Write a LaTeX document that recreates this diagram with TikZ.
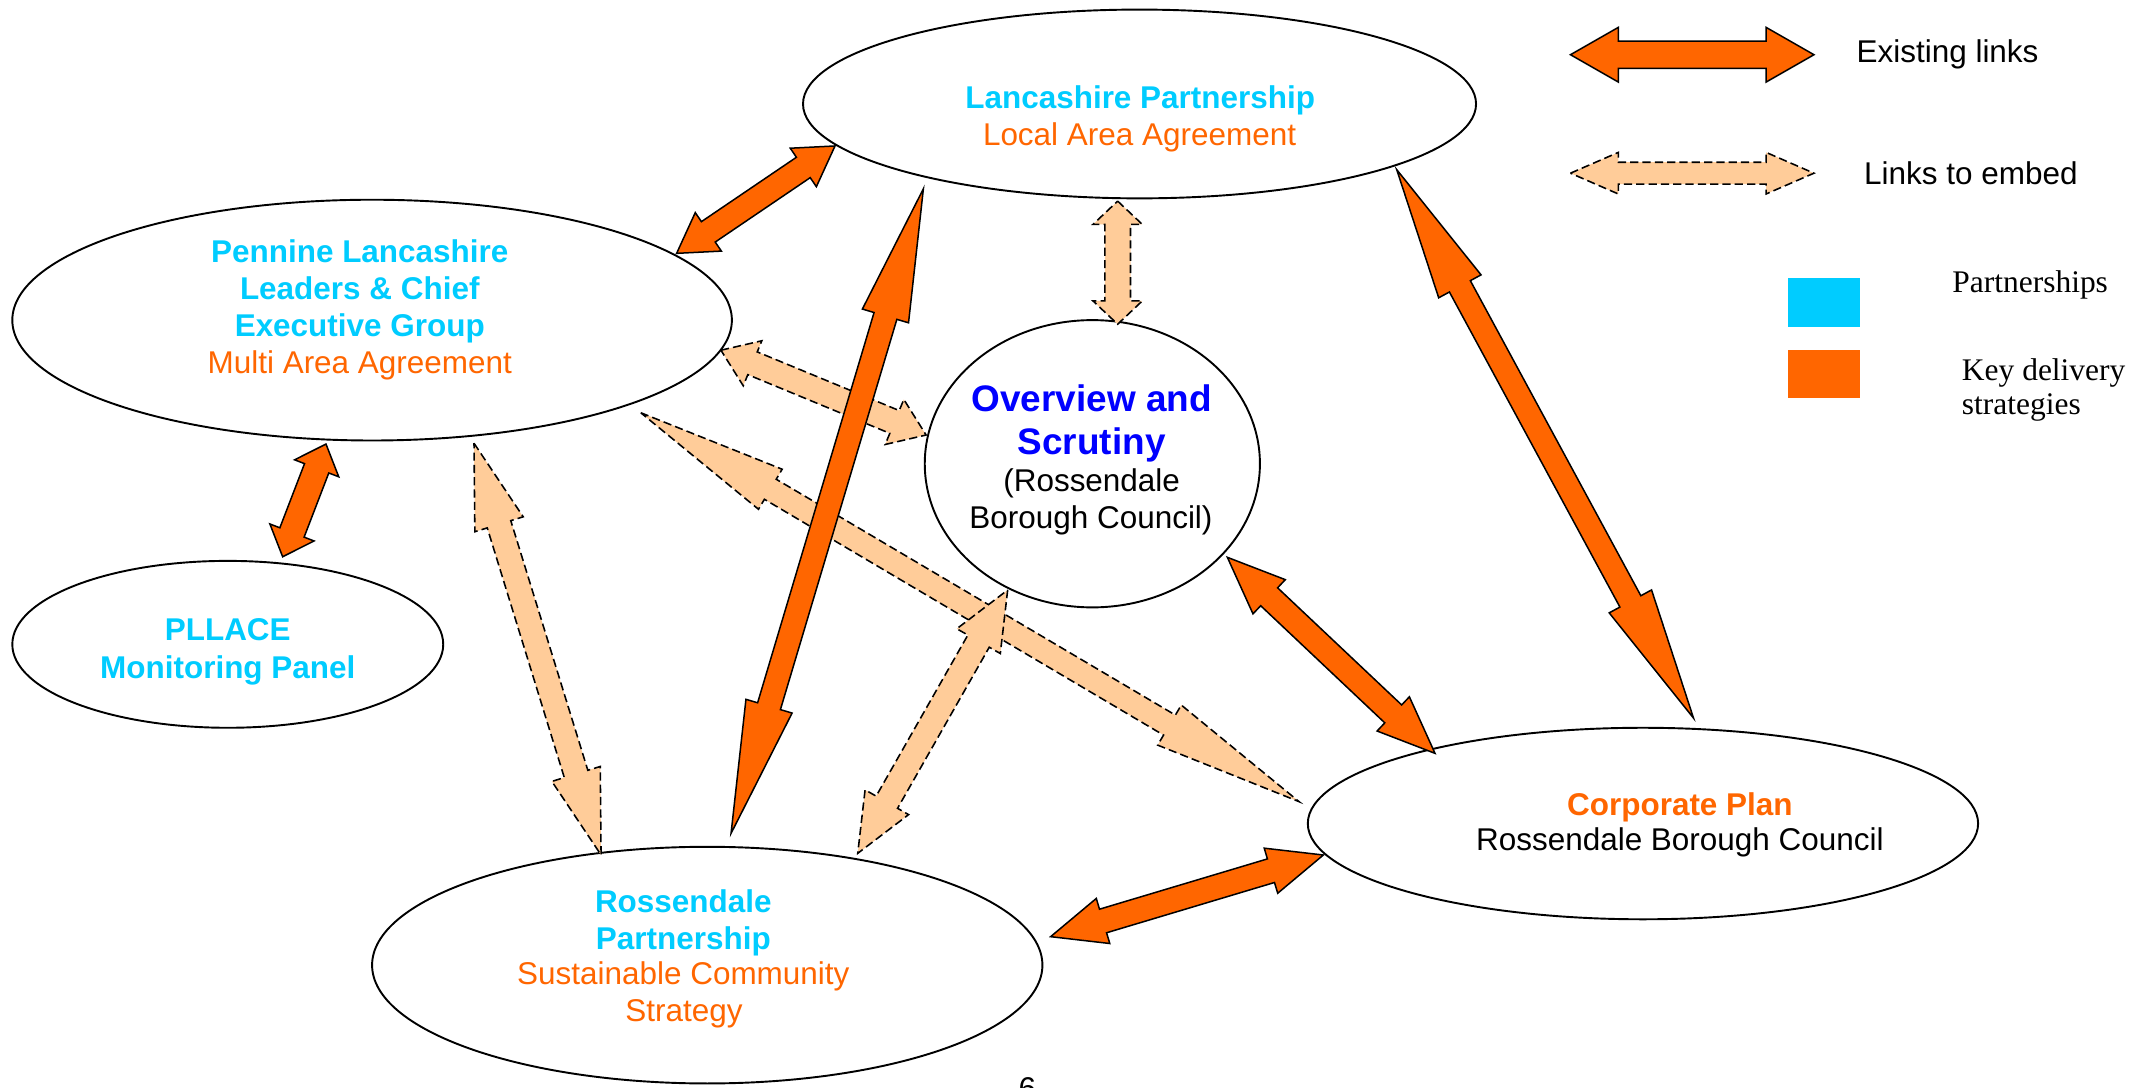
\documentclass[tikz,border=0pt]{standalone}
\usepackage{fontspec}
\setmainfont{Liberation Sans}
\newfontfamily\legserif{Liberation Serif}
\usetikzlibrary{shapes.geometric,calc}
\definecolor{cyP}{HTML}{00CCFF}
\definecolor{orK}{HTML}{FF6600}
\definecolor{peach}{HTML}{FFCC99}
\definecolor{blueO}{HTML}{0000FF}
% #1 style, #2 from, #3 to, #4 shaft half width, #5 head half width, #6 head length (all pt)
\newcommand\blockarrow[6]{%
  \path[#1] let \p1=(#2), \p2=(#3),
    \n1={veclen(\x2-\x1,\y2-\y1)}, \n2={atan2(\y2-\y1,\x2-\x1)} in
    [shift={(\p1)}, rotate=\n2]
    (0pt,0pt) -- (#6pt,#5pt) -- (#6pt,#4pt) -- ({(\n1-#6)*1pt},#4pt)
    -- ({(\n1-#6)*1pt},#5pt) -- ({\n1*1pt},0pt) -- ({(\n1-#6)*1pt},-#5pt)
    -- ({(\n1-#6)*1pt},-#4pt) -- (#6pt,-#4pt) -- (#6pt,-#5pt) -- cycle;
}
\tikzset{
  solidarr/.style={fill=orK, draw=black, line width=1.1pt, line join=miter},
  dasharr/.style={fill=peach, draw=black, line width=1.15pt, dash pattern=on 6pt off 3pt},
  bubble/.style={ellipse, draw=black, fill=white, line width=1.4pt, inner sep=0pt},
  ttl/.style={font=\fontsize{23}{27}\selectfont\bfseries, inner sep=0pt, anchor=base},
  sub/.style={font=\fontsize{23}{27}\selectfont, inner sep=0pt, anchor=base},
  big/.style={font=\fontsize{27}{31}\selectfont\bfseries, inner sep=0pt, anchor=base, text=blueO},
  legtxt/.style={font=\fontsize{23}{27}\selectfont, inner sep=0pt, anchor=base west},
  legser/.style={font=\fontsize{23}{27}\selectfont\legserif, inner sep=0pt, anchor=base west},
}
\begin{document}
\begin{tikzpicture}[x=1pt,y=-1pt]
\useasboundingbox (0,0) rectangle (1568,795);

% ellipses
\node[bubble, minimum width=492pt, minimum height=138pt] (lanc) at (833,76) {};
\node[bubble, minimum width=526pt, minimum height=176pt] (penn) at (272,234) {};
\node[bubble, minimum width=315pt, minimum height=122pt] (pllace) at (166.5,471) {};
\node[bubble, minimum width=245pt, minimum height=210pt] (over) at (798.5,339) {};
\node[bubble, minimum width=490pt, minimum height=140pt] (corp) at (1201,602) {};
\node[bubble, minimum width=490pt, minimum height=173pt] (ross) at (517,705.5) {};

% arrow end coordinates
\coordinate (d7a) at (468.4,301.7); \coordinate (d7b) at (949.6,586);
\coordinate (d8a) at (346.5,324);   \coordinate (d8b) at (439.4,625);
\coordinate (d6a) at (527,256);     \coordinate (d6b) at (677,318);
\coordinate (d3a) at (817,147);     \coordinate (d3b) at (817,237);
\coordinate (d9a) at (736.6,431.3); \coordinate (d9b) at (627,623.8);
\coordinate (a1a) at (610.4,106.7); \coordinate (a1b) at (494.6,185.2);
\coordinate (a2a) at (675,138);     \coordinate (a2b) at (534.4,609.2);
\coordinate (a4a) at (1021,124);    \coordinate (a4b) at (1238,525);
\coordinate (a5a) at (238.3,324.6); \coordinate (a5b) at (206.6,407);
\coordinate (a10a) at (897.2,407.4);\coordinate (a10b) at (1049,550.7);
\coordinate (a11a) at (768,684.7);  \coordinate (a11b) at (967.4,625);

% links to embed
\blockarrow{dasharr}{d7a}{d7b}{8.5}{17}{110}
\blockarrow{dasharr}{d8a}{d8b}{9}{18.5}{62}
\blockarrow{dasharr}{d6a}{d6b}{9}{17.8}{25}
\blockarrow{dasharr}{d3a}{d3b}{9.4}{18}{17}
\blockarrow{dasharr}{d9a}{d9b}{9}{18.3}{43}

% existing links
\blockarrow{solidarr}{a1a}{a1b}{9}{17}{28}
\blockarrow{solidarr}{a2a}{a2b}{8.7}{17.6}{97}
\blockarrow{solidarr}{a4a}{a4b}{8.7}{17.6}{97}
\blockarrow{solidarr}{a5a}{a5b}{9.5}{17.3}{19}
\blockarrow{solidarr}{a10a}{a10b}{9}{17.2}{42}
\blockarrow{solidarr}{a11a}{a11b}{9}{17.2}{40}

% texts
\node[ttl, text=cyP] (lancA) at (833.5,79) {Lancashire Partnership};
\node[sub, text=orK] (lancB) at (833,106) {Local Area Agreement};

\node[ttl, text=cyP] (pennA) at (263,192) {Pennine Lancashire};
\node[ttl, text=cyP] (pennB) at (263,219) {Leaders \& Chief};
\node[ttl, text=cyP] (pennC) at (263,246) {Executive Group};
\node[sub, text=orK] (pennD) at (263,273) {Multi Area Agreement};

\node[ttl, text=cyP] (plA) at (166.5,468) {PLLACE};
\node[ttl, text=cyP] (plB) at (166.5,496) {Monitoring Panel};

\node[big] (ovA) at (798,301) {Overview and};
\node[big] (ovB) at (798,332.5) {Scrutiny};
\node[sub] (ovC) at (798,359.5) {(Rossendale};
\node[sub] (ovD) at (797.5,386.5) {Borough Council)};

\node[ttl, text=orK] (coA) at (1228,596) {Corporate Plan};
\node[sub] (coB) at (1228,622) {Rossendale Borough Council};

\node[ttl, text=cyP] (roA) at (499.5,667) {Rossendale};
\node[ttl, text=cyP] (roB) at (499.5,694) {Partnership};
\node[sub, text=orK] (roC) at (499.5,720) {Sustainable Community};
\node[sub, text=orK] (roD) at (500,747) {Strategy};

% legend
\coordinate (l1a) at (1148,40);   \coordinate (l1b) at (1326,40);
\coordinate (l2a) at (1148,126.6); \coordinate (l2b) at (1326,126.6);
\blockarrow{solidarr}{l1a}{l1b}{10}{20}{35}
\blockarrow{dasharr}{l2a}{l2b}{8}{15.2}{35}
\node[legtxt] (legA) at (1357,46) {Existing links};
\node[legtxt] (legB) at (1362.5,135) {Links to embed};
\fill[cyP] (1307,203) rectangle (1360,239);
\fill[orK] (1307,256) rectangle (1360,291);
\node[legser] (legC) at (1427,214) {Partnerships};
\node[legser] (legD) at (1434,278) {Key delivery};
\node[legser] (legE) at (1434,303) {strategies};

% page number (cut off at bottom edge, as in the reference)
\node[sub] (pageno) at (751,803.5) {- 6 -};
\end{tikzpicture}
\end{document}
